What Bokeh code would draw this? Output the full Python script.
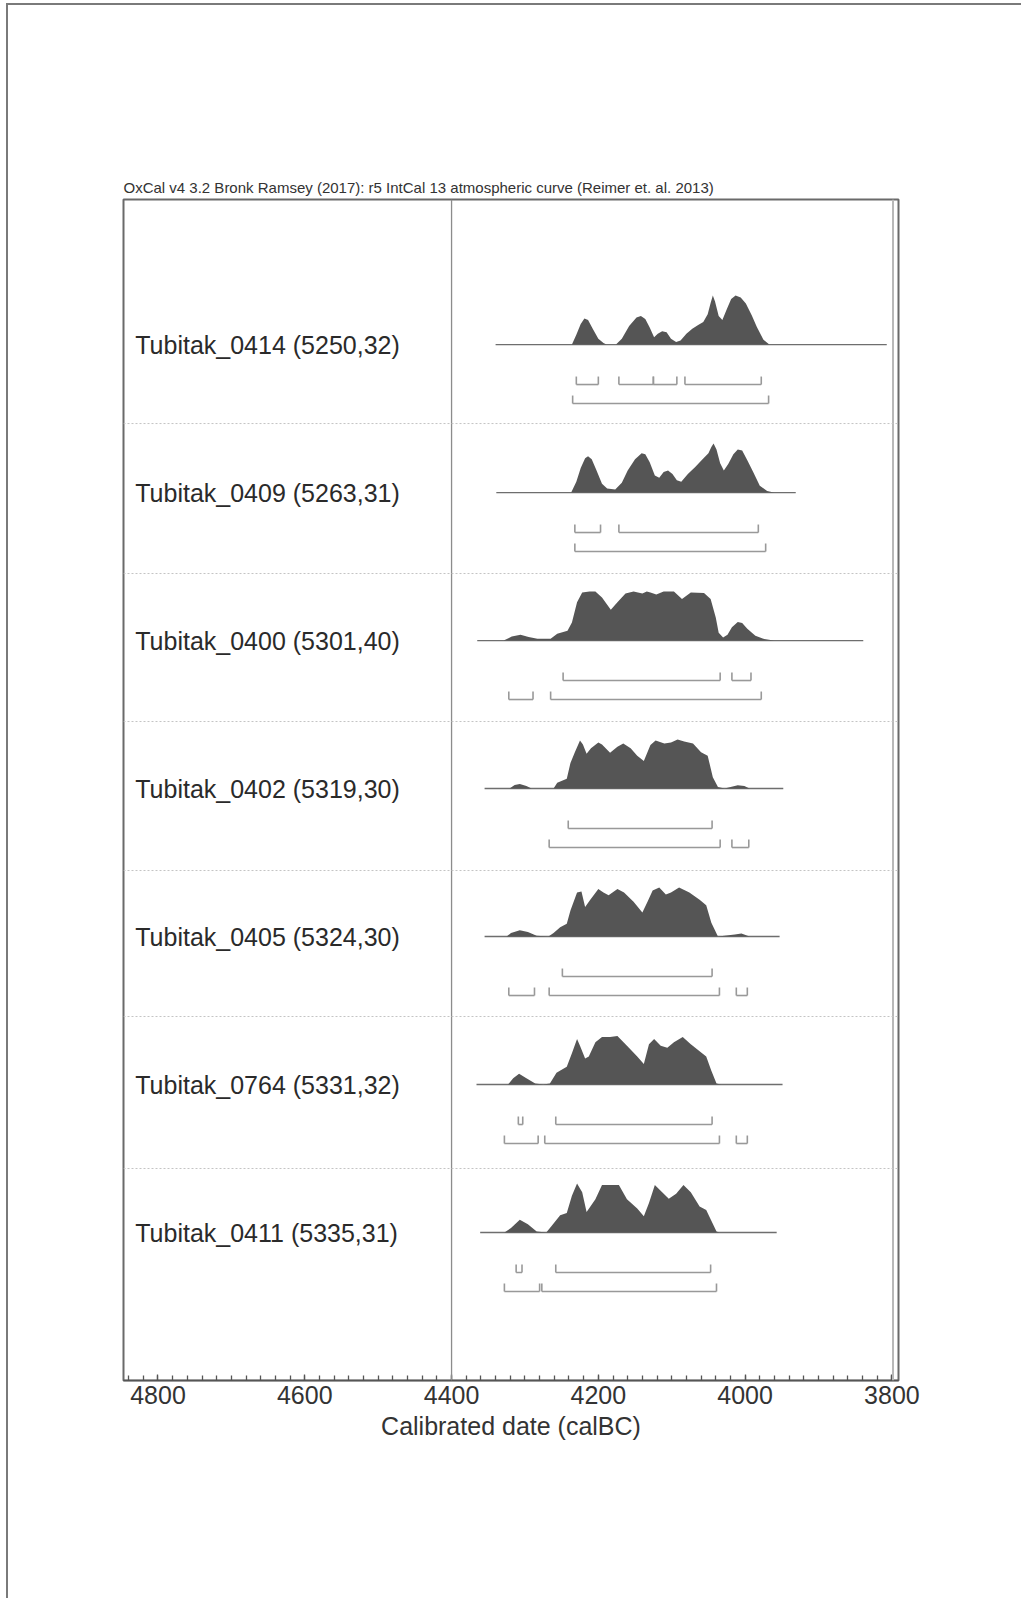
from bokeh.plotting import figure
from bokeh.models import Range1d, FixedTicker, Span
from bokeh.core.properties import value
from bokeh.embed import file_html
from bokeh.resources import INLINE

# ---------------- data ----------------
title_text = "OxCal v4 3.2 Bronk Ramsey (2017): r5 IntCal 13 atmospheric curve (Reimer et. al. 2013)"
axis_title = "Calibrated date (calBC)"

labels = [
    "Tubitak_0414 (5250,32)",
    "Tubitak_0409 (5263,31)",
    "Tubitak_0400 (5301,40)",
    "Tubitak_0402 (5319,30)",
    "Tubitak_0405 (5324,30)",
    "Tubitak_0764 (5331,32)",
    "Tubitak_0411 (5335,31)",
]

# extent of the plotted calibration range (thin base line), calBC
line_start = [4340, 4339, 4365, 4355, 4355, 4366, 4361]
line_end = [3807, 3931, 3839, 3948, 3953, 3949, 3957]

# probability density (relative to max)
d0414_year = [4236, 4230, 4224, 4219, 4214, 4208, 4200, 4193, 4189, 4176, 4168, 4158, 4148, 4142, 4136, 4130,
              4124, 4119, 4113, 4107, 4101, 4094, 4088, 4080, 4072, 4064, 4057, 4051, 4047, 4044, 4041,
              4036, 4031, 4025, 4019, 4013, 4006, 3999, 3991, 3984, 3975, 3967]
d0414_prob = [0, .2, .42, .53, .5, .33, .12, .03, 0, 0, .12, .38, .55, .58, .52, .35,
              .15, .22, .27, .25, .12, .05, .08, .22, .32, .40, .46, .62, .85, 1.0, .88,
              .58, .50, .72, .93, 1.0, .96, .84, .6, .36, .1, 0]

d0409_year = [4237, 4230, 4224, 4218, 4214, 4209, 4203, 4195, 4188, 4177, 4168, 4160, 4150, 4141, 4136, 4130,
              4123, 4117, 4111, 4105, 4099, 4093, 4087, 4078, 4068, 4058, 4050, 4046, 4043, 4039, 4034,
              4029, 4023, 4016, 4010, 4004, 3997, 3989, 3980, 3970, 3961]
d0409_prob = [0, .22, .5, .7, .74, .68, .47, .18, .08, .06, .2, .45, .68, .8, .78, .62,
              .35, .3, .42, .45, .38, .25, .22, .38, .52, .68, .8, .93, 1.0, .88, .6,
              .45, .58, .78, .88, .86, .66, .42, .14, .03, 0]

d0400_year = [4329, 4318, 4306, 4295, 4283, 4265, 4256, 4242, 4236, 4229, 4222, 4212, 4204, 4195, 4183, 4174,
              4163, 4152, 4140, 4134, 4129, 4121, 4111, 4097, 4086, 4074, 4056, 4047, 4040, 4036, 4030,
              4024, 4018, 4010, 4004, 3997, 3986, 3974, 3961]
d0400_prob = [0, .08, .12, .07, .035, .035, .14, .20, .37, .78, .98, 1.0, 1.0, .88, .63, .78,
              .96, 1.0, .96, 1.0, .98, .94, 1.0, 1.0, .85, .98, .97, .85, .47, .16, .06,
              .12, .27, .38, .36, .24, .10, .03, 0]

d0402_year = [4321, 4314, 4307, 4298, 4291, 4261, 4256, 4243, 4238, 4232, 4225, 4221, 4216, 4210, 4200, 4195,
              4184, 4174, 4166, 4156, 4147, 4138, 4129, 4122, 4110, 4101, 4092, 4083, 4071, 4060, 4051, 4044,
              4037, 4028, 4017, 4010, 4001, 3994]
d0402_prob = [0, .07, .09, .05, 0, 0, .12, .20, .52, .74, .98, .90, .71, .82, .94, .90,
              .73, .85, .92, .82, .67, .56, .89, .98, .92, .94, 1.0, .96, .92, .74, .67, .23,
              .03, 0, .04, .065, .05, 0]

d0405_year = [4325, 4319, 4307, 4296, 4284, 4268, 4261, 4252, 4243, 4238, 4229, 4223, 4218, 4211, 4200, 4193,
              4186, 4174, 4165, 4152, 4140, 4133, 4126, 4117, 4108, 4101, 4090, 4076, 4062, 4053, 4046, 4037,
              4014, 4005, 3994]
d0405_prob = [0, .07, .13, .09, .015, 0, .07, .19, .26, .53, .90, .92, .60, .75, .97, .90,
              .84, .97, .90, .71, .49, .71, .94, 1.0, .86, .90, 1.0, .90, .75, .64, .28, 0,
              .04, .06, 0]

d0764_year = [4323, 4316, 4308, 4298, 4286, 4275, 4266, 4257, 4243, 4236, 4229, 4225, 4218, 4213, 4204, 4195,
              4184, 4174, 4161, 4147, 4138, 4131, 4124, 4115, 4106, 4097, 4085, 4074, 4062, 4053, 4046, 4039, 4033]
d0764_prob = [0, .13, .22, .13, .02, 0, .02, .24, .36, .64, .93, .79, .53, .57, .86, .97,
              .97, .99, .79, .57, .42, .82, .93, .79, .75, .86, .97, .82, .68, .57, .28, .02, 0]

d0411_year = [4328, 4319, 4307, 4296, 4284, 4271, 4264, 4252, 4243, 4236, 4229, 4222, 4216, 4204, 4195, 4184,
              4172, 4161, 4147, 4138, 4131, 4123, 4113, 4104, 4094, 4084, 4074, 4062, 4053, 4046, 4039, 4035]
d0411_prob = [0, .09, .26, .17, .02, 0, .13, .35, .40, .75, 1.0, .82, .42, .68, .97, .97,
              .97, .68, .49, .33, .60, .97, .82, .69, .79, .97, .82, .53, .46, .24, .02, 0]

dens_year = [d0414_year, d0409_year, d0400_year, d0402_year, d0405_year, d0764_year, d0411_year]
dens_prob = [d0414_prob, d0409_prob, d0400_prob, d0402_prob, d0405_prob, d0764_prob, d0411_prob]

# highest posterior density ranges (from, to) calBC
hpd68 = [
    [(4230, 4200), (4172, 4125), (4125, 4093), (4082, 3978)],
    [(4232, 4197), (4172, 3982)],
    [(4248, 4034), (4018, 3992)],
    [(4241, 4045)],
    [(4249, 4045)],
    [(4309, 4303), (4258, 4045)],
    [(4312, 4304), (4258, 4047)],
]
hpd95 = [
    [(4235, 3968)],
    [(4232, 3972)],
    [(4322, 4289), (4265, 3978)],
    [(4267, 4034), (4018, 3995)],
    [(4322, 4287), (4267, 4035), (4012, 3997)],
    [(4328, 4282), (4273, 4035), (4012, 3997)],
    [(4328, 4280), (4277, 4039)],
]

tick_years = [4800, 4600, 4400, 4200, 4000, 3800]
minor_years = list(range(3800, 4841, 20))

# ---------------- layout constants ----------------
FONT = "Liberation Sans"
N = len(labels)
row_base = [N - i for i in range(N)]
PX = 148.0
PEAK = 49 / PX
OFF68 = 40 / PX
OFF95 = 59 / PX
TICK = 8 / PX
SEP_OFF_PX = [79, 81, 81, 82, 80, 84]
label_x = 4831

p = figure(width=1015, height=1595,
           x_range=Range1d(4847, 3791), y_range=Range1d(0, 7.98),
           output_backend="svg", toolbar_location=None,
           y_axis_location=None,
           min_border_left=115, min_border_right=125,
           min_border_top=194, min_border_bottom=220)
p.styles = {"margin-top": "3px", "margin-left": "6px",
            "border-top": "2px solid #7a7a7a", "border-left": "2px solid #7a7a7a"}

p.grid.visible = False
p.background_fill_color = "white"
p.border_fill_color = "white"
p.outline_line_color = "#6a6a6a"
p.outline_line_width = 2

p.title.text = title_text
p.title.align = "left"
p.title.text_font = FONT
p.title.text_font_size = "15px"
p.title.text_font_style = "normal"
p.title.text_color = "#333333"
p.title.standoff = 8

# frame lines
p.add_layout(Span(location=4400, dimension="height", line_color="#8c8c8c", line_width=1.3))
p.add_layout(Span(location=3798.5, dimension="height", line_color="#b8b8b8", line_width=2))

# row separators
for i in range(N - 1):
    p.add_layout(Span(location=row_base[i] - SEP_OFF_PX[i] / PX, dimension="width",
                      line_color="#c4c4c4", line_width=1, line_dash="2 2"))

# base lines
p.segment(x0=line_start, y0=row_base, x1=line_end, y1=row_base, line_color="#6e6e6e", line_width=1.3)

# distributions
for i in range(N):
    b = row_base[i]
    p.varea(x=dens_year[i], y1=[b] * len(dens_year[i]),
            y2=[b + PEAK * v for v in dens_prob[i]], fill_color="#555555")

# brackets
bx0, by0, bx1, by1 = [], [], [], []
for i in range(N):
    for ranges, off in ((hpd68[i], OFF68), (hpd95[i], OFF95)):
        y = row_base[i] - off
        for a, b in ranges:
            bx0 += [a, a, b]
            by0 += [y, y, y]
            bx1 += [b, a, b]
            by1 += [y, y + TICK, y + TICK]
p.segment(x0=bx0, y0=by0, x1=bx1, y1=by1, line_color="#999999", line_width=1.6)

# labels
p.text(x=[label_x] * N, y=row_base, text=labels, text_font=value(FONT),
       text_font_size="25px", text_baseline="middle", text_align="left", text_color="#2a2a2a")

# axis
ax = p.xaxis[0]
ax.ticker = FixedTicker(ticks=tick_years, minor_ticks=minor_years)
ax.axis_line_color = "#555555"
ax.axis_line_width = 1.6
ax.major_tick_in = 6
ax.major_tick_out = 0
ax.minor_tick_in = 5
ax.minor_tick_out = 0
ax.major_tick_line_color = "#555555"
ax.minor_tick_line_color = "#555555"
ax.major_tick_line_width = 1.3
ax.minor_tick_line_width = 1.3
ax.major_label_text_font = FONT
ax.major_label_text_font_size = "25px"
ax.major_label_text_color = "#333333"
ax.major_label_standoff = 5
ax.axis_label = axis_title
ax.axis_label_text_font = FONT
ax.axis_label_text_font_size = "25px"
ax.axis_label_text_font_style = "normal"
ax.axis_label_text_color = "#333333"
ax.axis_label_standoff = 5

open("out.html", "w").write(file_html(p, INLINE))
